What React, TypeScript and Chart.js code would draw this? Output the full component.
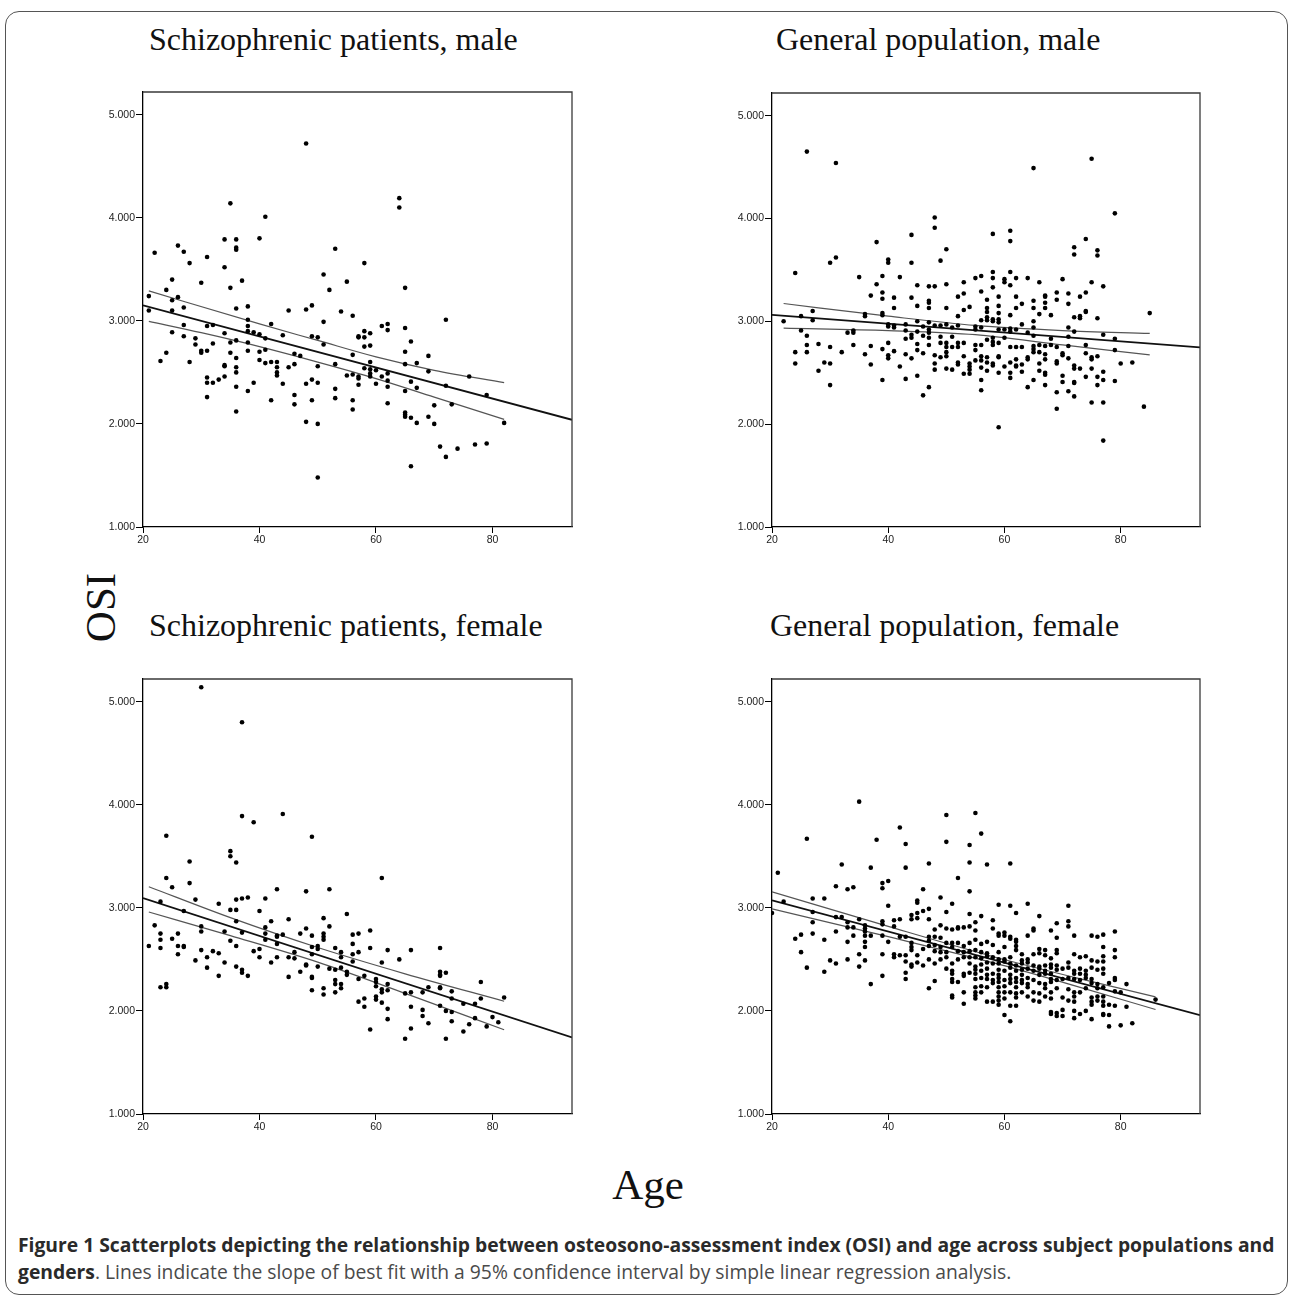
import React, { useEffect, useRef } from "react";
import { Chart, registerables } from "chart.js";

Chart.register(...registerables);

// ---------- axes ----------
const X_MIN = 20;
const X_MAX = 93.65;
const Y_MIN = 1;
const Y_MAX = 5.22;
const xTickValues = [20, 40, 60, 80];
const yTickValues = [1, 2, 3, 4, 5];

const panelTitles = [
  "Schizophrenic patients, male",
  "General population, male",
  "Schizophrenic patients, female",
  "General population, female",
];

// ---------- Schizophrenic patients, male ----------
const tlAge = [
  48, 35, 64, 64, 41, 40, 34, 36, 36, 36,
  22, 26, 27, 28, 31, 34, 53, 58, 51, 37,
  55, 30, 52, 35, 65, 25, 24, 26, 21, 25,
  27, 36, 38, 48, 49, 45, 54, 25, 21, 56,
  38, 51, 72, 62, 61, 62, 65, 27, 31, 32,
  42, 38, 38, 39, 40, 41, 34, 25, 27, 29,
  36, 35, 38, 44, 49, 50, 57, 57, 58, 59,
  58, 59, 58, 66, 51, 32, 29, 30, 30, 31,
  35, 38, 40, 41, 46, 47, 56, 65, 69, 24,
  23, 28, 40, 41, 42, 43, 43, 45, 46, 50,
  53, 34, 34, 36, 36, 36, 43, 43, 65, 67,
  58, 59, 59, 59, 59, 60, 61, 62, 55, 56,
  57, 57, 57, 69, 31, 31, 32, 33, 34, 39,
  49, 50, 44, 48, 60, 62, 66, 76, 36, 38,
  46, 53, 62, 67, 72, 65, 31, 42, 49, 53,
  56, 79, 46, 62, 70, 73, 36, 56, 65, 65,
  65, 66, 69, 48, 50, 67, 70, 82, 71, 72,
  74, 77, 79, 66, 50,
];
const tlOsi = [
  4.72, 4.14, 4.19, 4.10, 4.01, 3.80, 3.79, 3.79, 3.71, 3.69,
  3.66, 3.73, 3.67, 3.56, 3.62, 3.52, 3.70, 3.56, 3.45, 3.39,
  3.38, 3.37, 3.30, 3.32, 3.32, 3.40, 3.30, 3.23, 3.24, 3.20,
  3.13, 3.12, 3.14, 3.11, 3.15, 3.10, 3.09, 3.10, 3.10, 3.05,
  3.01, 2.99, 3.01, 2.97, 2.95, 2.91, 2.93, 2.96, 2.95, 2.96,
  2.97, 2.95, 2.90, 2.89, 2.87, 2.83, 2.88, 2.89, 2.85, 2.83,
  2.81, 2.79, 2.79, 2.86, 2.85, 2.84, 2.85, 2.84, 2.90, 2.88,
  2.84, 2.76, 2.75, 2.80, 2.77, 2.78, 2.77, 2.71, 2.69, 2.71,
  2.69, 2.71, 2.70, 2.72, 2.68, 2.66, 2.67, 2.70, 2.66, 2.69,
  2.61, 2.60, 2.62, 2.59, 2.60, 2.60, 2.55, 2.55, 2.58, 2.56,
  2.58, 2.56, 2.57, 2.55, 2.50, 2.64, 2.50, 2.47, 2.58, 2.59,
  2.54, 2.60, 2.53, 2.49, 2.46, 2.52, 2.46, 2.49, 2.47, 2.48,
  2.46, 2.44, 2.38, 2.51, 2.45, 2.40, 2.40, 2.43, 2.46, 2.40,
  2.43, 2.40, 2.39, 2.39, 2.39, 2.42, 2.41, 2.46, 2.36, 2.32,
  2.28, 2.34, 2.36, 2.35, 2.37, 2.32, 2.26, 2.23, 2.23, 2.25,
  2.23, 2.28, 2.19, 2.20, 2.18, 2.19, 2.12, 2.14, 2.11, 2.09,
  2.07, 2.06, 2.07, 2.02, 2.00, 2.01, 2.00, 2.01, 1.78, 1.68,
  1.76, 1.80, 1.81, 1.59, 1.48,
];
const tlFitX = [20, 93.65];
const tlFitY = [3.15, 2.04];
const tlUpX = [21, 40, 50, 60, 70, 82];
const tlUpY = [3.29, 2.97, 2.81, 2.65, 2.52, 2.4];
const tlLoX = [21, 30, 40, 50, 60, 70, 82];
const tlLoY = [2.995, 2.885, 2.75, 2.6, 2.44, 2.26, 2.044];

// ---------- General population, male ----------
const trAge = [
  26, 31, 75, 65, 79, 48, 48, 44, 58, 61,
  61, 74, 38, 72, 72, 76, 76, 50, 40, 40,
  44, 49, 30, 31, 24, 35, 39, 42, 55, 56,
  58, 58, 60, 60, 61, 61, 62, 64, 70, 66,
  38, 45, 47, 48, 50, 53, 58, 75, 77, 39,
  39, 37, 41, 44, 52, 53, 56, 59, 62, 67,
  67, 69, 69, 71, 73, 74, 47, 47, 57, 65,
  67, 71, 45, 47, 41, 50, 54, 59, 62, 63,
  65, 67, 57, 57, 53, 27, 39, 39, 36, 36,
  59, 61, 66, 68, 52, 74, 74, 85, 73, 73,
  72, 76, 25, 27, 22, 57, 57, 58, 58, 59,
  59, 56, 45, 47, 65, 63, 40, 40, 41, 41,
  43, 48, 49, 50, 51, 52, 55, 55, 56, 47,
  46, 60, 61, 61, 62, 65, 71, 72, 64, 25,
  33, 34, 34, 43, 45, 47, 59, 44, 44, 46,
  49, 51, 47, 43, 26, 65, 77, 58, 60, 57,
  71, 79, 68, 40, 49, 50, 52, 53, 58, 59,
  55, 56, 45, 47, 28, 34, 26, 58, 68, 74,
  66, 65, 67, 50, 52, 51, 30, 37, 61, 62,
  63, 69, 71, 39, 45, 55, 65, 24, 26, 32,
  36, 41, 43, 46, 50, 66, 65, 67, 70, 70,
  74, 75, 79, 40, 40, 44, 48, 49, 50, 53,
  56, 57, 59, 59, 64, 64, 75, 76, 72, 71,
  29, 24, 30, 37, 42, 48, 52, 52, 54, 55,
  56, 57, 58, 58, 60, 61, 62, 62, 62, 63,
  66, 67, 69, 69, 72, 73, 75, 80, 82, 77,
  48, 50, 51, 53, 54, 54, 56, 57, 59, 61,
  63, 67, 67, 66, 28, 45, 54, 70, 74, 76,
  61, 39, 43, 56, 65, 77, 70, 72, 72, 79,
  30, 67, 76, 47, 64, 56, 71, 69, 46, 72,
  75, 77, 84, 69, 59, 77,
];
const trOsi = [
  4.65, 4.54, 4.58, 4.49, 4.05, 4.01, 3.91, 3.84, 3.85, 3.88,
  3.78, 3.80, 3.77, 3.72, 3.65, 3.69, 3.64, 3.70, 3.60, 3.57,
  3.57, 3.59, 3.57, 3.62, 3.47, 3.43, 3.44, 3.43, 3.42, 3.44,
  3.48, 3.42, 3.41, 3.38, 3.48, 3.35, 3.42, 3.42, 3.41, 3.38,
  3.36, 3.35, 3.34, 3.34, 3.36, 3.38, 3.33, 3.38, 3.34, 3.28,
  3.22, 3.25, 3.23, 3.23, 3.24, 3.27, 3.29, 3.24, 3.24, 3.25,
  3.24, 3.28, 3.21, 3.27, 3.24, 3.28, 3.20, 3.18, 3.21, 3.20,
  3.18, 3.17, 3.15, 3.13, 3.13, 3.13, 3.14, 3.15, 3.13, 3.17,
  3.13, 3.13, 3.13, 3.09, 3.11, 3.10, 3.08, 3.06, 3.07, 3.05,
  3.08, 3.06, 3.07, 3.06, 3.05, 3.10, 3.09, 3.08, 3.05, 3.03,
  3.04, 3.03, 3.05, 3.01, 3.00, 3.04, 3.01, 3.02, 3.00, 3.02,
  2.99, 3.01, 3.00, 2.99, 3.00, 2.97, 2.97, 2.95, 2.96, 2.94,
  2.97, 2.96, 2.96, 2.97, 2.94, 2.96, 2.95, 2.92, 2.94, 2.92,
  2.95, 2.92, 2.93, 2.90, 2.92, 2.94, 2.94, 2.90, 2.89, 2.91,
  2.89, 2.91, 2.89, 2.91, 2.90, 2.89, 2.92, 2.87, 2.84, 2.86,
  2.85, 2.85, 2.84, 2.83, 2.86, 2.86, 2.87, 2.84, 2.84, 2.82,
  2.85, 2.83, 2.83, 2.79, 2.79, 2.79, 2.79, 2.79, 2.80, 2.79,
  2.77, 2.77, 2.78, 2.77, 2.78, 2.77, 2.77, 2.77, 2.77, 2.77,
  2.77, 2.76, 2.76, 2.75, 2.75, 2.75, 2.75, 2.76, 2.75, 2.75,
  2.75, 2.75, 2.76, 2.73, 2.72, 2.72, 2.73, 2.70, 2.70, 2.70,
  2.68, 2.71, 2.68, 2.69, 2.70, 2.70, 2.70, 2.68, 2.69, 2.67,
  2.69, 2.65, 2.72, 2.67, 2.64, 2.64, 2.67, 2.65, 2.66, 2.66,
  2.66, 2.65, 2.66, 2.65, 2.65, 2.63, 2.63, 2.66, 2.57, 2.64,
  2.60, 2.59, 2.59, 2.58, 2.56, 2.59, 2.60, 2.58, 2.59, 2.62,
  2.62, 2.60, 2.59, 2.57, 2.56, 2.60, 2.63, 2.57, 2.56, 2.58,
  2.59, 2.63, 2.61, 2.59, 2.54, 2.54, 2.54, 2.59, 2.60, 2.51,
  2.53, 2.54, 2.53, 2.49, 2.49, 2.53, 2.55, 2.52, 2.50, 2.50,
  2.51, 2.50, 2.48, 2.52, 2.52, 2.47, 2.56, 2.47, 2.46, 2.46,
  2.45, 2.43, 2.44, 2.43, 2.43, 2.43, 2.41, 2.41, 2.40, 2.42,
  2.38, 2.38, 2.38, 2.36, 2.36, 2.33, 2.32, 2.31, 2.28, 2.27,
  2.21, 2.21, 2.17, 2.15, 1.97, 1.84,
];
const trFitX = [20, 93.65];
const trFitY = [3.063, 2.746];
const trUpX = [22, 40, 55, 70, 85];
const trUpY = [3.173, 3.05, 2.96, 2.91, 2.882];
const trLoX = [22, 40, 55, 70, 85];
const trLoY = [2.934, 2.91, 2.87, 2.77, 2.674];

// ---------- Schizophrenic patients, female ----------
const blAge = [
  30, 37, 37, 39, 44, 49, 24, 28, 35, 35,
  36, 24, 28, 25, 61, 43, 52, 48, 29, 36,
  37, 38, 41, 23, 33, 35, 36, 27, 40, 55,
  51, 45, 42, 36, 52, 22, 30, 41, 48, 59,
  30, 34, 37, 23, 26, 41, 44, 47, 51, 56,
  57, 43, 49, 43, 51, 23, 25, 41, 51, 35,
  43, 56, 21, 26, 27, 27, 23, 36, 49, 50,
  50, 53, 59, 62, 66, 71, 30, 32, 40, 39,
  54, 57, 33, 46, 49, 26, 56, 31, 40, 43,
  45, 46, 54, 64, 29, 34, 42, 56, 61, 48,
  48, 36, 50, 54, 31, 52, 53, 37, 37, 47,
  55, 55, 71, 71, 72, 33, 38, 45, 58, 71,
  49, 49, 57, 53, 60, 60, 78, 53, 54, 62,
  23, 24, 24, 60, 71, 69, 71, 51, 54, 61,
  61, 62, 73, 49, 53, 51, 65, 66, 68, 78,
  82, 73, 60, 60, 58, 57, 61, 75, 77, 71,
  58, 66, 62, 72, 73, 68, 68, 80, 77, 62,
  73, 69, 81, 76, 79, 59, 66, 75, 65, 72,
];
const blOsi = [
  5.14, 4.80, 3.89, 3.83, 3.91, 3.69, 3.70, 3.45, 3.55, 3.50,
  3.44, 3.29, 3.24, 3.20, 3.29, 3.18, 3.18, 3.16, 3.08, 3.08,
  3.09, 3.10, 3.09, 3.06, 3.04, 2.98, 2.98, 2.97, 2.97, 2.94,
  2.90, 2.89, 2.87, 2.87, 2.82, 2.83, 2.82, 2.81, 2.80, 2.78,
  2.77, 2.77, 2.76, 2.75, 2.75, 2.75, 2.74, 2.75, 2.75, 2.74,
  2.75, 2.73, 2.73, 2.72, 2.72, 2.69, 2.70, 2.69, 2.69, 2.68,
  2.65, 2.65, 2.63, 2.63, 2.63, 2.62, 2.61, 2.63, 2.62, 2.63,
  2.60, 2.61, 2.61, 2.59, 2.59, 2.61, 2.59, 2.58, 2.60, 2.58,
  2.57, 2.57, 2.56, 2.57, 2.55, 2.55, 2.55, 2.52, 2.52, 2.52,
  2.52, 2.51, 2.52, 2.50, 2.49, 2.47, 2.47, 2.48, 2.47, 2.45,
  2.44, 2.43, 2.43, 2.42, 2.42, 2.41, 2.40, 2.40, 2.37, 2.38,
  2.38, 2.35, 2.38, 2.35, 2.37, 2.34, 2.34, 2.33, 2.34, 2.34,
  2.33, 2.32, 2.31, 2.30, 2.31, 2.28, 2.28, 2.26, 2.26, 2.26,
  2.23, 2.26, 2.23, 2.24, 2.23, 2.23, 2.22, 2.22, 2.22, 2.21,
  2.18, 2.20, 2.19, 2.20, 2.18, 2.16, 2.17, 2.18, 2.18, 2.12,
  2.13, 2.12, 2.14, 2.11, 2.12, 2.09, 2.08, 2.07, 2.07, 2.05,
  2.04, 2.04, 2.02, 2.00, 1.99, 2.01, 1.95, 1.94, 1.93, 1.92,
  1.90, 1.88, 1.89, 1.87, 1.85, 1.82, 1.83, 1.80, 1.73, 1.73,
];
const blFitX = [20, 93.65];
const blFitY = [3.095, 1.743];
const blUpX = [21, 35, 50, 65, 82];
const blUpY = [3.205, 2.905, 2.615, 2.36, 2.094];
const blLoX = [21, 35, 50, 65, 82];
const blLoY = [2.96, 2.73, 2.473, 2.17, 1.817];

// ---------- General population, female ----------
const brAge = [
  21, 22, 20, 26, 35, 42, 43, 43, 38, 50,
  55, 56, 50, 54, 54, 57, 61, 47, 37, 32,
  52, 40, 39, 39, 31, 33, 34, 46, 54, 49,
  27, 29, 45, 45, 51, 59, 64, 61, 71, 40,
  47, 46, 50, 45, 27, 54, 62, 44, 66, 56,
  31, 32, 35, 44, 45, 47, 41, 42, 58, 71,
  71, 69, 55, 33, 27, 39, 39, 36, 49, 52,
  52, 53, 54, 33, 34, 41, 50, 51, 36, 58,
  65, 65, 48, 55, 68, 79, 31, 36, 59, 59,
  60, 60, 61, 61, 62, 62, 64, 72, 75, 76,
  77, 69, 25, 27, 34, 36, 37, 39, 42, 43,
  47, 48, 49, 24, 29, 33, 36, 40, 44, 47,
  50, 51, 52, 54, 55, 56, 57, 58, 60, 62,
  36, 44, 47, 48, 49, 51, 53, 77, 66, 67,
  69, 79, 25, 35, 44, 46, 48, 49, 50, 52,
  53, 54, 55, 56, 57, 59, 62, 63, 65, 66,
  67, 69, 72, 74, 73, 79, 77, 39, 41, 42,
  43, 45, 33, 41, 47, 49, 50, 52, 53, 54,
  55, 56, 57, 58, 59, 60, 61, 63, 64, 68,
  75, 30, 31, 36, 43, 45, 46, 44, 44, 48,
  51, 54, 55, 56, 57, 58, 59, 60, 61, 62,
  63, 64, 65, 66, 67, 68, 69, 71, 76, 77,
  35, 26, 50, 51, 55, 56, 57, 59, 60, 61,
  62, 63, 64, 65, 66, 67, 68, 69, 70, 71,
  72, 73, 74, 75, 76, 77, 29, 43, 51, 53,
  54, 55, 57, 58, 59, 61, 63, 66, 67, 68,
  72, 73, 74, 77, 39, 43, 51, 53, 55, 56,
  57, 58, 59, 60, 61, 62, 63, 64, 65, 68,
  69, 70, 71, 72, 73, 74, 75, 79, 79, 48,
  51, 52, 58, 59, 61, 62, 63, 64, 66, 67,
  68, 75, 76, 78, 81, 37, 56, 55, 57, 59,
  60, 62, 64, 67, 69, 71, 74, 76, 77, 47,
  53, 55, 56, 59, 60, 61, 62, 63, 65, 66,
  68, 72, 73, 79, 80, 51, 51, 55, 55, 59,
  60, 62, 64, 67, 68, 70, 72, 75, 76, 77,
  86, 57, 58, 59, 65, 66, 71, 72, 75, 76,
  77, 53, 59, 61, 62, 75, 77, 78, 79, 81,
  70, 72, 68, 68, 69, 69, 77, 77, 78, 70,
  60, 73, 74, 72, 75, 61, 80, 82, 78,
];
const brOsi = [
  3.34, 3.06, 2.95, 3.67, 4.03, 3.78, 3.62, 3.39, 3.66, 3.90,
  3.92, 3.72, 3.64, 3.61, 3.44, 3.42, 3.43, 3.43, 3.39, 3.42,
  3.29, 3.26, 3.24, 3.19, 3.21, 3.18, 3.20, 3.18, 3.16, 3.10,
  3.09, 3.09, 3.07, 3.05, 3.04, 3.03, 3.04, 3.02, 3.02, 3.02,
  2.99, 2.97, 2.96, 2.95, 2.96, 2.94, 2.95, 2.93, 2.92, 2.92,
  2.91, 2.91, 2.89, 2.89, 2.90, 2.89, 2.88, 2.89, 2.88, 2.87,
  2.82, 2.85, 2.86, 2.86, 2.86, 2.87, 2.84, 2.83, 2.83, 2.81,
  2.80, 2.81, 2.82, 2.81, 2.81, 2.82, 2.80, 2.79, 2.80, 2.80,
  2.80, 2.78, 2.79, 2.78, 2.78, 2.77, 2.77, 2.77, 2.75, 2.73,
  2.76, 2.73, 2.72, 2.70, 2.69, 2.67, 2.73, 2.73, 2.73, 2.72,
  2.74, 2.71, 2.74, 2.75, 2.73, 2.73, 2.73, 2.73, 2.72, 2.72,
  2.72, 2.72, 2.71, 2.70, 2.69, 2.67, 2.67, 2.67, 2.66, 2.68,
  2.66, 2.66, 2.66, 2.66, 2.69, 2.65, 2.67, 2.64, 2.62, 2.63,
  2.62, 2.62, 2.63, 2.64, 2.62, 2.62, 2.63, 2.62, 2.60, 2.59,
  2.59, 2.59, 2.57, 2.55, 2.59, 2.60, 2.58, 2.57, 2.57, 2.58,
  2.57, 2.58, 2.59, 2.57, 2.56, 2.57, 2.59, 2.55, 2.55, 2.56,
  2.54, 2.56, 2.55, 2.53, 2.52, 2.52, 2.53, 2.55, 2.55, 2.54,
  2.54, 2.54, 2.50, 2.52, 2.50, 2.50, 2.52, 2.50, 2.52, 2.52,
  2.52, 2.51, 2.53, 2.52, 2.50, 2.50, 2.52, 2.49, 2.50, 2.51,
  2.49, 2.49, 2.46, 2.49, 2.48, 2.47, 2.44, 2.45, 2.43, 2.46,
  2.46, 2.46, 2.43, 2.45, 2.47, 2.46, 2.46, 2.48, 2.46, 2.44,
  2.46, 2.47, 2.44, 2.43, 2.44, 2.45, 2.44, 2.47, 2.48, 2.48,
  2.43, 2.42, 2.41, 2.39, 2.40, 2.39, 2.41, 2.40, 2.39, 2.42,
  2.39, 2.40, 2.41, 2.39, 2.41, 2.39, 2.42, 2.40, 2.41, 2.42,
  2.39, 2.41, 2.39, 2.42, 2.40, 2.41, 2.38, 2.37, 2.36, 2.36,
  2.37, 2.36, 2.35, 2.36, 2.35, 2.35, 2.35, 2.35, 2.36, 2.36,
  2.36, 2.36, 2.35, 2.36, 2.34, 2.31, 2.31, 2.34, 2.31, 2.32,
  2.31, 2.30, 2.32, 2.30, 2.31, 2.32, 2.30, 2.32, 2.30, 2.31,
  2.30, 2.31, 2.32, 2.31, 2.30, 2.32, 2.31, 2.32, 2.30, 2.29,
  2.28, 2.28, 2.27, 2.28, 2.27, 2.28, 2.27, 2.26, 2.27, 2.26,
  2.28, 2.27, 2.26, 2.27, 2.26, 2.26, 2.24, 2.23, 2.23, 2.23,
  2.24, 2.23, 2.23, 2.22, 2.22, 2.21, 2.22, 2.22, 2.23, 2.22,
  2.18, 2.18, 2.18, 2.18, 2.18, 2.18, 2.17, 2.18, 2.18, 2.17,
  2.18, 2.18, 2.18, 2.19, 2.18, 2.15, 2.13, 2.15, 2.12, 2.14,
  2.12, 2.13, 2.14, 2.14, 2.12, 2.13, 2.14, 2.13, 2.14, 2.14,
  2.11, 2.09, 2.09, 2.10, 2.10, 2.09, 2.10, 2.09, 2.09, 2.10,
  2.09, 2.07, 2.06, 2.05, 2.05, 2.06, 2.05, 2.06, 2.05, 2.04,
  2.01, 2.00, 1.99, 1.97, 1.98, 1.95, 1.97, 1.96, 1.96, 1.95,
  1.96, 1.97, 2.00, 1.93, 1.92, 1.90, 1.86, 1.88, 1.85,
];
const brFitX = [20, 93.65];
const brFitY = [3.073, 1.959];
const brUpX = [20, 40, 58, 72, 86];
const brUpY = [3.156, 2.82, 2.528, 2.326, 2.136];
const brLoX = [20, 40, 58, 72, 86];
const brLoY = [2.99, 2.72, 2.468, 2.246, 2.014];

// ---------- helpers ----------
const pairs = (xs: number[], ys: number[]) => xs.map((x, i) => ({ x, y: ys[i] }));

const framePlugin = {
  id: "frameBox",
  afterDatasetsDraw(chart: any) {
    const { ctx, chartArea } = chart;
    const { left, top, right, bottom } = chartArea;
    ctx.save();
    ctx.strokeStyle = "#3a3a3a";
    ctx.lineWidth = 1.3;
    ctx.beginPath();
    ctx.moveTo(left, top);
    ctx.lineTo(right, top);
    ctx.lineTo(right, bottom);
    ctx.stroke();
    ctx.restore();
  },
};

const PAD_L = 60;
const PAD_T = 10;
const PAD_R = 10;
const PAD_B = 30;

type PanelProps = {
  age: number[];
  osi: number[];
  fitX: number[];
  fitY: number[];
  upX: number[];
  upY: number[];
  loX: number[];
  loY: number[];
  left: number;
  top: number;
  right: number;
  bottom: number;
};

function Panel(p: PanelProps) {
  const ref = useRef<HTMLCanvasElement>(null);
  const w = PAD_L + (p.right - p.left) + PAD_R;
  const h = PAD_T + (p.bottom - p.top) + PAD_B;

  useEffect(() => {
    if (!ref.current) return;
    const tickFont = { family: "'Liberation Sans', Arial, sans-serif", size: 10.5 };
    const chart = new Chart(ref.current, {
      type: "scatter",
      data: {
        datasets: [
          {
            data: pairs(p.age, p.osi),
            showLine: false,
            pointRadius: 2.3,
            pointBackgroundColor: "#000",
            pointBorderWidth: 0,
            pointHoverRadius: 2.3,
          },
          {
            data: pairs(p.fitX, p.fitY),
            showLine: true,
            pointRadius: 0,
            borderColor: "#111",
            borderWidth: 1.8,
          },
          {
            data: pairs(p.upX, p.upY),
            showLine: true,
            pointRadius: 0,
            borderColor: "#555",
            borderWidth: 1.2,
            cubicInterpolationMode: "monotone",
          },
          {
            data: pairs(p.loX, p.loY),
            showLine: true,
            pointRadius: 0,
            borderColor: "#555",
            borderWidth: 1.2,
            cubicInterpolationMode: "monotone",
          },
        ] as any,
      },
      options: {
        responsive: false,
        animation: false,
        events: [],
        layout: { padding: { left: 0, top: PAD_T, right: PAD_R, bottom: 0 } },
        plugins: { legend: { display: false }, tooltip: { enabled: false } },
        scales: {
          x: {
            type: "linear",
            min: X_MIN,
            max: X_MAX,
            afterBuildTicks: (s: any) => {
              s.ticks = xTickValues.map((v) => ({ value: v }));
            },
            afterFit: (s: any) => {
              s.height = PAD_B;
            },
            ticks: {
              autoSkip: false,
              maxRotation: 0,
              padding: 1,
              font: tickFont,
              color: "#222",
              callback: (v: any) => String(v),
            },
            grid: {
              drawOnChartArea: false,
              drawTicks: true,
              tickLength: 6,
              tickColor: "#000",
            },
            border: { display: true, color: "#000", width: 1.3 },
          },
          y: {
            type: "linear",
            min: Y_MIN,
            max: Y_MAX,
            afterBuildTicks: (s: any) => {
              s.ticks = yTickValues.map((v) => ({ value: v }));
            },
            afterFit: (s: any) => {
              s.width = PAD_L;
            },
            ticks: {
              autoSkip: false,
              padding: 1,
              font: tickFont,
              color: "#222",
              callback: (v: any) => Number(v).toFixed(3),
            },
            grid: {
              drawOnChartArea: false,
              drawTicks: true,
              tickLength: 7,
              tickColor: "#000",
            },
            border: { display: true, color: "#000", width: 1.3 },
          },
        },
      } as any,
      plugins: [framePlugin],
    });
    return () => chart.destroy();
  }, []);

  return (
    <canvas
      ref={ref}
      width={w}
      height={h}
      style={{
        position: "absolute",
        left: p.left - PAD_L,
        top: p.top - PAD_T,
        width: w,
        height: h,
      }}
    />
  );
}

const serif = "'Liberation Serif', 'Times New Roman', serif";

export default function App() {
  const titleStyle = (left: number, top: number): React.CSSProperties => ({
    position: "absolute",
    left,
    top,
    fontFamily: serif,
    fontSize: 32,
    lineHeight: "32px",
    color: "#111",
    whiteSpace: "nowrap",
  });

  return (
    <div
      style={{
        position: "absolute",
        left: 0,
        top: 0,
        width: 1293,
        height: 1306,
        background: "#fff",
        overflow: "hidden",
      }}
    >
      <div
        style={{
          position: "absolute",
          left: 5,
          top: 11,
          width: 1283,
          height: 1284,
          border: "1.5px solid #555",
          borderRadius: 14,
          boxSizing: "border-box",
        }}
      />

      <div style={titleStyle(149, 23)}>{panelTitles[0]}</div>
      <div style={titleStyle(776, 23)}>{panelTitles[1]}</div>
      <div style={titleStyle(149, 609)}>{panelTitles[2]}</div>
      <div style={titleStyle(770, 609)}>{panelTitles[3]}</div>

      <Panel
        age={tlAge} osi={tlOsi}
        fitX={tlFitX} fitY={tlFitY}
        upX={tlUpX} upY={tlUpY}
        loX={tlLoX} loY={tlLoY}
        left={143} top={92} right={572} bottom={527}
      />
      <Panel
        age={trAge} osi={trOsi}
        fitX={trFitX} fitY={trFitY}
        upX={trUpX} upY={trUpY}
        loX={trLoX} loY={trLoY}
        left={772} top={93} right={1200} bottom={527}
      />
      <Panel
        age={blAge} osi={blOsi}
        fitX={blFitX} fitY={blFitY}
        upX={blUpX} upY={blUpY}
        loX={blLoX} loY={blLoY}
        left={143} top={679} right={572} bottom={1114}
      />
      <Panel
        age={brAge} osi={brOsi}
        fitX={brFitX} fitY={brFitY}
        upX={brUpX} upY={brUpY}
        loX={brLoX} loY={brLoY}
        left={772} top={679} right={1200} bottom={1114}
      />

      <div
        style={{
          position: "absolute",
          left: 60,
          top: 585.5,
          width: 80,
          height: 43,
          lineHeight: "43px",
          textAlign: "center",
          fontFamily: serif,
          fontSize: 43,
          color: "#111",
          transform: "rotate(-90deg)",
          transformOrigin: "50% 50%",
        }}
      >
        OSI
      </div>

      <div
        style={{
          position: "absolute",
          left: 548,
          top: 1163,
          width: 200,
          textAlign: "center",
          fontFamily: serif,
          fontSize: 43,
          lineHeight: "43px",
          color: "#111",
        }}
      >
        Age
      </div>

      <div
        style={{
          position: "absolute",
          left: 18,
          top: 1231,
          fontFamily: "'Open Sans', sans-serif",
          fontSize: 19.3,
          lineHeight: "27px",
          color: "#2a2a2a",
          whiteSpace: "nowrap",
        }}
      >
        <b>
          Figure 1 Scatterplots depicting the relationship between osteosono-assessment index (OSI) and age
          across subject populations and
        </b>
        <br />
        <b>genders</b>
        <span style={{ color: "#4a4a4a" }}>
          . Lines indicate the slope of best fit with a 95% confidence interval by simple linear regression
          analysis.
        </span>
      </div>
    </div>
  );
}
